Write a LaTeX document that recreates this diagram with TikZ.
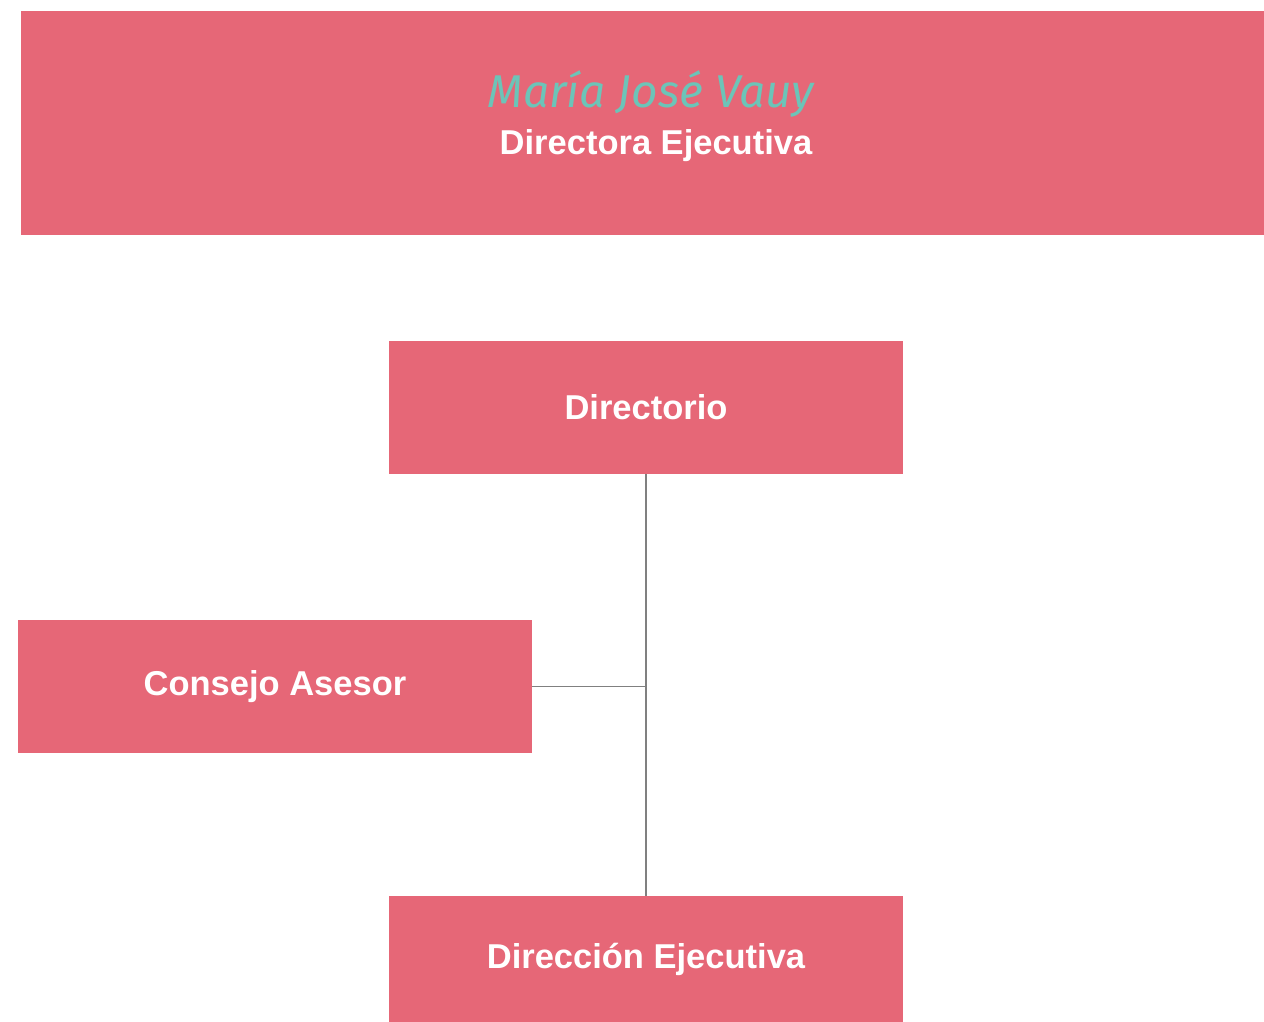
\documentclass[tikz,border=0pt]{standalone}
\usepackage{fontspec}
\setmainfont{Liberation Sans}
\newfontfamily\handfont{Fira Sans}
\usepackage{xcolor}
\usepackage{tikz}
\definecolor{rosa}{HTML}{E66777}
\definecolor{turquesa}{HTML}{6CC4B8}
\definecolor{linea}{HTML}{808080}

\begin{document}
\begin{tikzpicture}[x=1pt,y=-1pt]
\tikzstyle{block}=[rectangle,fill=rosa,minimum height=133pt,minimum width=514pt,inner sep=0pt,font=\fontsize{34.5}{40}\selectfont\bfseries,text=white]
\tikzstyle{conector}=[draw=linea,line width=1.2pt]
\useasboundingbox (0,0) rectangle (1264,1022);
% cabecera
\node[rectangle,fill=rosa,minimum width=1243pt,minimum height=224pt,inner sep=0pt] (cab) at (642.5,123) {};
\node[text=turquesa,font=\handfont\itshape\fontsize{46}{52}\selectfont,inner sep=0pt] (nombre) at (651,94) {María José Vauy};
\node[text=white,font=\fontsize{34.5}{40}\selectfont\bfseries,inner sep=0pt] (cargo) at (656,146) {Directora Ejecutiva};
% organigrama
\node[block] (dir) at (646,407.5) {Directorio};
\node[block] (cons) at (275,686.5) {\raisebox{4pt}{Consejo Asesor}};
\node[block,minimum height=126pt] (ejec) at (646,959) {Dirección Ejecutiva};
\draw[conector] (dir.south) -- (ejec.north);
\draw[conector] (cons.east) -- (cons.east -| dir.south);
\end{tikzpicture}
\end{document}
